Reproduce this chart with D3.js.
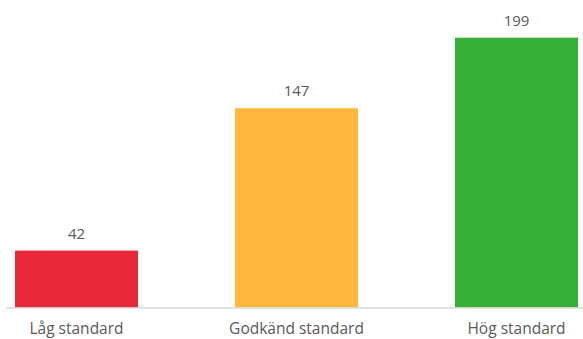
<!DOCTYPE html>
<html>
<head>
<meta charset="utf-8">
<script src="https://cdn.jsdelivr.net/npm/d3@7"></script>
<style>
  html, body { margin: 0; padding: 0; background: #fff; }
  svg { display: block; }
  text { font-family: "Open Sans", Lato, sans-serif; fill: #595959; }
</style>
</head>
<body>
<svg id="chart" width="583" height="339"></svg>
<script>
const categories = ["Låg standard", "Godkänd standard", "Hög standard"];
const values = [42, 147, 199];
const colors = ["#E8293A", "#FFB83C", "#36B037"];

const width = 583, height = 339;
const baseline = 307.5;
const svg = d3.select("#chart");

const x = d3.scaleBand()
  .domain(categories)
  .range([-33.5, 626.5])
  .paddingInner(0.441)
  .paddingOuter(0.2205);

const y = d3.scaleLinear()
  .domain([0, 199])
  .range([baseline, 37.7]);

// bars
svg.selectAll("rect.bar")
  .data(categories)
  .join("rect")
  .attr("class", "bar")
  .attr("x", d => x(d))
  .attr("width", x.bandwidth())
  .attr("y", (d, i) => y(values[i]))
  .attr("height", (d, i) => baseline - y(values[i]))
  .attr("fill", (d, i) => colors[i]);

// category axis
const axis = svg.append("g")
  .attr("transform", `translate(0,${baseline})`)
  .call(d3.axisBottom(x).tickSize(0).tickPadding(15));
axis.select(".domain").remove();
axis.append("line")
  .attr("x1", 6).attr("x2", width)
  .attr("y1", 0.5).attr("y2", 0.5)
  .attr("stroke", "#d9d9d9")
  .attr("stroke-width", 1.5);
axis.selectAll(".tick text")
  .attr("font-family", "'Open Sans', Lato, sans-serif")
  .attr("font-size", 15.5)
  .attr("fill", "#595959");

// value labels
svg.selectAll("text.val")
  .data(categories)
  .join("text")
  .attr("class", "val")
  .attr("x", d => x(d) + x.bandwidth() / 2)
  .attr("y", (d, i) => y(values[i]) - 12)
  .attr("text-anchor", "middle")
  .attr("font-size", 15)
  .text((d, i) => values[i]);
</script>
</body>
</html>
